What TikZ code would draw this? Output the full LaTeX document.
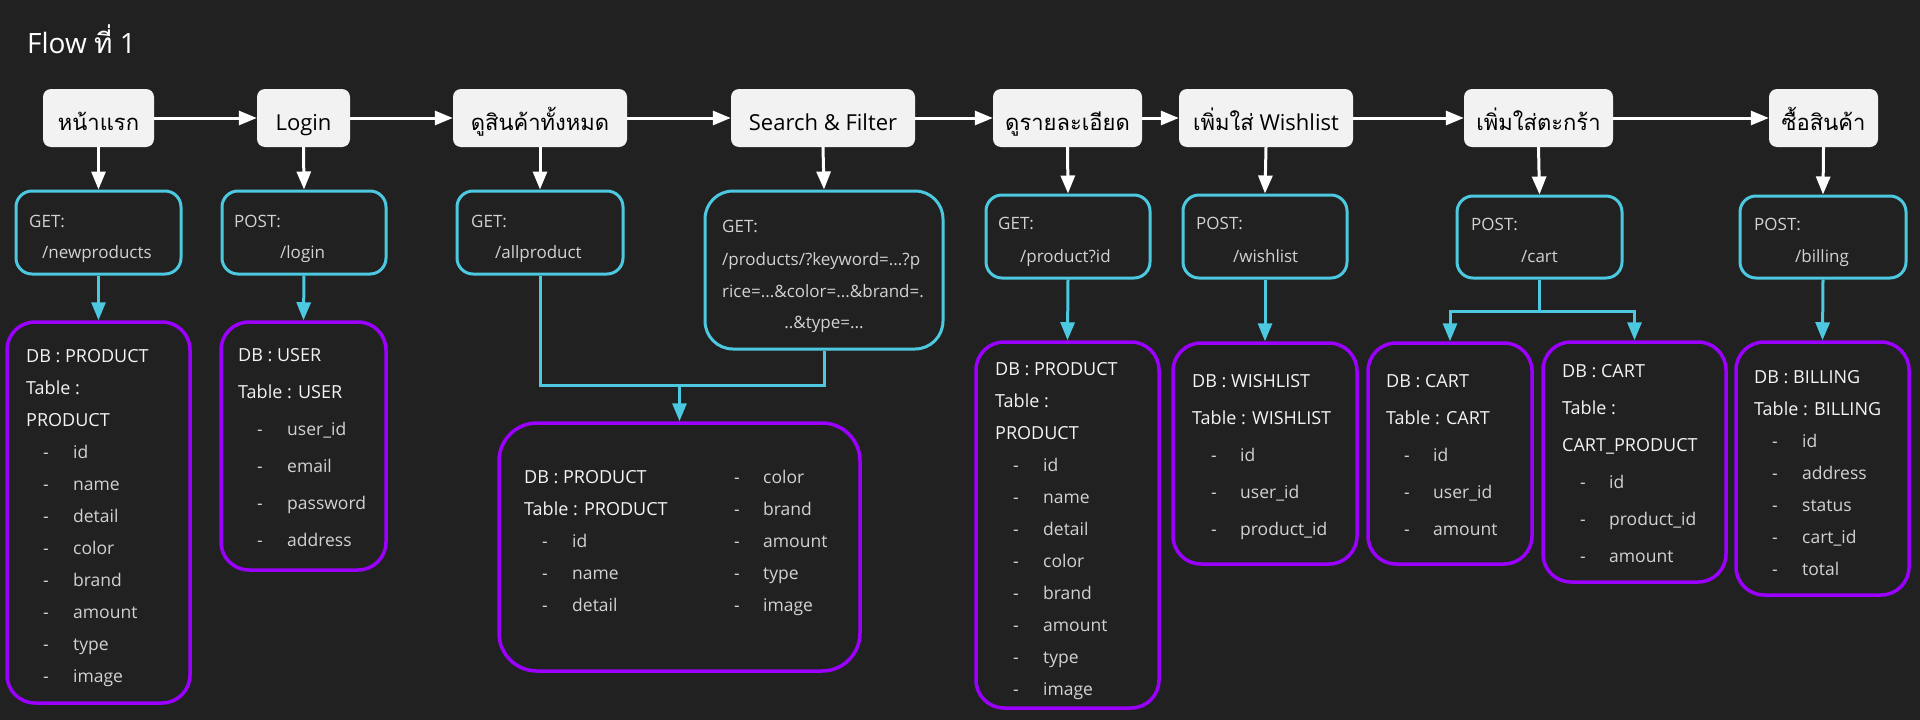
\documentclass[tikz,border=0pt]{standalone}
\usepackage{fontspec}
\setmainfont{Open Sans}
\newfontfamily\thai[Script=Thai]{Loma}
\usetikzlibrary{arrows.meta}
\definecolor{bg}{HTML}{212121}
\definecolor{cy}{HTML}{4CC9E0}
\definecolor{pu}{HTML}{9B00FF}
\definecolor{boxfill}{HTML}{F2F2F2}
\definecolor{txtl}{HTML}{D2D2D2}
\definecolor{txth}{HTML}{F4F4F4}
\tikzset{
  mainbox/.style={fill=boxfill, rounded corners=8pt, inner sep=0pt, text=black,
    font=\fontsize{22}{26}\selectfont, text height=28pt, text depth=4pt, minimum height=58pt},
  apibox/.style={draw=cy, line width=3pt, rounded corners=16pt, inner sep=0pt},
  dbbox/.style={draw=pu, line width=3.5pt, rounded corners=28pt, inner sep=0pt},
  tip/.style={-{Triangle[length=18pt,width=14pt]}},
  wline/.style={draw=white, line width=3pt, tip},
  cline/.style={draw=cy, line width=3pt},
  carrow/.style={cline, tip},
  apitxt/.style={anchor=base west, inner sep=0pt, text=txtl, font=\fontsize{17}{20}\selectfont},
  dbh/.style={anchor=base west, inner sep=0pt, text=txth, font=\fontsize{18}{20}\selectfont},
  dbi/.style={anchor=base west, inner sep=0pt, text=txtl, font=\fontsize{17.5}{20}\selectfont},
}
\begin{document}
\begin{tikzpicture}[x=1pt,y=-1pt]
\fill[bg] (0,0) rectangle (1920,720);
\useasboundingbox (0,0) rectangle (1920,720);

\node[anchor=base west, inner sep=0pt, text=white, font=\fontsize{28}{32}\selectfont] (title) at (27,53) {Flow {\thai ที่} 1};

% main boxes
\node[mainbox, minimum width=111pt] (n1) at (98.5,118) {\thai หน้าแรก};
\node[mainbox, minimum width=93pt] (n2) at (303.5,118) {Login};
\node[mainbox, minimum width=174pt] (n3) at (540,118) {\thai ดูสินค้าทั้งหมด};
\node[mainbox, minimum width=184pt] (n4) at (823,118) {Search \& Filter};
\node[mainbox, minimum width=149pt] (n5) at (1067.5,118) {\thai ดูรายละเอียด};
\node[mainbox, minimum width=174pt] (n6) at (1266,118) {{\thai เพิ่มใส่} Wishlist};
\node[mainbox, minimum width=149pt] (n7) at (1538.5,118) {\thai เพิ่มใส่ตะกร้า};
\node[mainbox, minimum width=109pt] (n8) at (1823.5,118) {\thai ซื้อสินค้า};

\foreach \a/\b in {n1/n2,n2/n3,n3/n4,n4/n5,n5/n6,n6/n7,n7/n8}
  \draw[wline] (\a.east) -- (\b.west);

% api boxes
\node[apibox, minimum width=165pt, minimum height=83pt] (a1) at (98.5,232.5) {};
\node[apibox, minimum width=164pt, minimum height=83pt] (a2) at (304,232.5) {};
\node[apibox, minimum width=166pt, minimum height=83pt] (a3) at (540,232.5) {};
\node[apibox, rounded corners=28pt, minimum width=238pt, minimum height=158pt] (a4) at (824,270) {};
\node[apibox, minimum width=164pt, minimum height=83pt] (a5) at (1068,236.5) {};
\node[apibox, minimum width=164pt, minimum height=83pt] (a6) at (1265,236.5) {};
\node[apibox, minimum width=165pt, minimum height=82pt] (a7) at (1539.5,237) {};
\node[apibox, minimum width=166pt, minimum height=82pt] (a8) at (1823,237) {};

\foreach \k in {1,...,8}
  \draw[wline] (n\k.south) -- (a\k.north);

% api texts
\node[apitxt] (a1t1) at (29,227) {GET:};
\node[apitxt] (a1t2) at (42,258) {/newproducts};
\node[apitxt] (a2t1) at (234,227) {POST:};
\node[apitxt] (a2t2) at (280,258) {/login};
\node[apitxt] (a3t1) at (471,227) {GET:};
\node[apitxt] (a3t2) at (495,258) {/allproduct};
\node[apitxt] (a4t1) at (722,232) {GET:};
\node[apitxt] (a4t2) at (722,265) {/products/?keyword=...?p};
\node[apitxt] (a4t3) at (722,297) {rice=...\&color=...\&brand=.};
\node[apitxt, anchor=base] (a4t4) at (824,328) {..\&type=...};
\node[apitxt] (a5t1) at (998,229) {GET:};
\node[apitxt] (a5t2) at (1020,262) {/product?id};
\node[apitxt] (a6t1) at (1196,229) {POST:};
\node[apitxt] (a6t2) at (1233,262) {/wishlist};
\node[apitxt] (a7t1) at (1471,230) {POST:};
\node[apitxt] (a7t2) at (1521,262) {/cart};
\node[apitxt] (a8t1) at (1754,230) {POST:};
\node[apitxt] (a8t2) at (1795,262) {/billing};

% db boxes
\node[dbbox, minimum width=183pt, minimum height=381pt] (d1) at (98.5,512.5) {};
\node[dbbox, minimum width=165pt, minimum height=248pt] (d2) at (303.5,446) {};
\node[dbbox, rounded corners=38pt, minimum width=361pt, minimum height=248pt] (d3) at (679.5,547) {};
\node[dbbox, minimum width=183pt, minimum height=366pt] (d4) at (1067.5,525) {};
\node[dbbox, minimum width=184pt, minimum height=221pt] (d5) at (1265,453.5) {};
\node[dbbox, minimum width=164pt, minimum height=221pt] (d6) at (1450,453.5) {};
\node[dbbox, minimum width=183pt, minimum height=240pt] (d7) at (1634.5,462) {};
\node[dbbox, minimum width=173pt, minimum height=253pt] (d8) at (1822.5,468.5) {};

% cyan connectors
\draw[carrow] (a1.south) -- (d1.north);
\draw[carrow] (a2.south) -- (d2.north);
\coordinate (j3) at (679.5,385);
\draw[cline] (a3.south) |- (j3) -| (a4.south);
\draw[carrow] (j3) -- (d3.north);
\draw[carrow] (a5.south) -- (d4.north);
\draw[carrow] (a6.south) -- (d5.north);
\coordinate (j7) at (1539.5,311);
\draw[carrow] (a7.south) -- (j7) -| (d6.north);
\draw[carrow] (j7) -| (d7.north);
\draw[carrow] (a8.south) -- (d8.north);

% db texts
% d1
\node[dbh] (d1h1) at (26,362) {DB : PRODUCT};
\node[dbh] (d1h2) at (26,394) {Table :};
\node[dbh] (d1h3) at (26,426) {PRODUCT};
\foreach \t [count=\k] in {id,name,detail,color,brand,amount,type,image}{
  \node[dbi] (d1m\k) at (43,426+32*\k) {-};
  \node[dbi] (d1i\k) at (73,426+32*\k) {\t};
}
% d2
\node[dbh] (d2h1) at (238,361) {DB : USER};
\node[dbh] (d2h2) at (238,398) {Table : USER};
\foreach \t [count=\k] in {user\_id,email,password,address}{
  \node[dbi] (d2m\k) at (257,398+37*\k) {-};
  \node[dbi] (d2i\k) at (287,398+37*\k) {\t};
}
% d3
\node[dbh] (d3h1) at (524,483) {DB : PRODUCT};
\node[dbh] (d3h2) at (524,515) {Table : PRODUCT};
\foreach \t [count=\k] in {id,name,detail}{
  \node[dbi] (d3m\k) at (542,515+32*\k) {-};
  \node[dbi] (d3i\k) at (572,515+32*\k) {\t};
}
\foreach \t [count=\k] in {color,brand,amount,type,image}{
  \node[dbi] (d3r\k) at (734,451+32*\k) {-};
  \node[dbi] (d3s\k) at (763,451+32*\k) {\t};
}
% d4
\node[dbh] (d4h1) at (995,375) {DB : PRODUCT};
\node[dbh] (d4h2) at (995,407) {Table :};
\node[dbh] (d4h3) at (995,439) {PRODUCT};
\foreach \t [count=\k] in {id,name,detail,color,brand,amount,type,image}{
  \node[dbi] (d4m\k) at (1013,439+32*\k) {-};
  \node[dbi] (d4i\k) at (1043,439+32*\k) {\t};
}
% d5
\node[dbh] (d5h1) at (1192,387) {DB : WISHLIST};
\node[dbh] (d5h2) at (1192,424) {Table : WISHLIST};
\foreach \t [count=\k] in {id,user\_id,product\_id}{
  \node[dbi] (d5m\k) at (1211,424+37*\k) {-};
  \node[dbi] (d5i\k) at (1240,424+37*\k) {\t};
}
% d6
\node[dbh] (d6h1) at (1386,387) {DB : CART};
\node[dbh] (d6h2) at (1386,424) {Table : CART};
\foreach \t [count=\k] in {id,user\_id,amount}{
  \node[dbi] (d6m\k) at (1404,424+37*\k) {-};
  \node[dbi] (d6i\k) at (1433,424+37*\k) {\t};
}
% d7
\node[dbh] (d7h1) at (1562,377) {DB : CART};
\node[dbh] (d7h2) at (1562,414) {Table :};
\node[dbh] (d7h3) at (1562,451) {CART\_PRODUCT};
\foreach \t [count=\k] in {id,product\_id,amount}{
  \node[dbi] (d7m\k) at (1580,451+37*\k) {-};
  \node[dbi] (d7i\k) at (1609,451+37*\k) {\t};
}
% d8
\node[dbh] (d8h1) at (1754,383) {DB : BILLING};
\node[dbh] (d8h2) at (1754,415) {Table : BILLING};
\foreach \t [count=\k] in {id,address,status,cart\_id,total}{
  \node[dbi] (d8m\k) at (1772,415+32*\k) {-};
  \node[dbi] (d8i\k) at (1802,415+32*\k) {\t};
}
\end{tikzpicture}
\end{document}
